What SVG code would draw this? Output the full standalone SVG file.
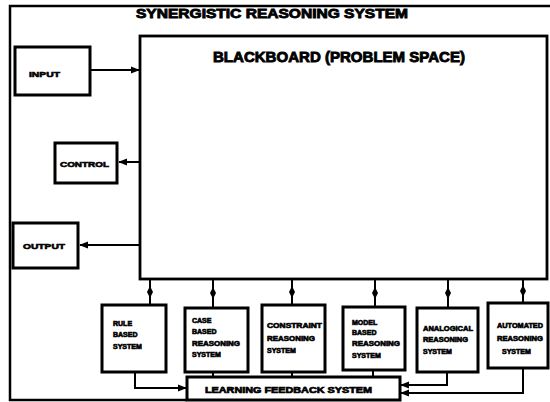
<svg xmlns="http://www.w3.org/2000/svg" width="550" height="402" viewBox="0 0 550 402">
  <style>
    .frame { fill: none; stroke: #000; stroke-width: 2.5; }
    .box { fill: #fff; stroke: #000; stroke-width: 3; }
    .board { fill: #fff; stroke: #000; stroke-width: 2.8; }
    .link { fill: none; stroke: #000; stroke-width: 2; }
    text { font-family: "Liberation Sans", Arial, sans-serif; font-weight: bold; fill: #000; stroke: #000; stroke-width: 0.6; }
    .title { font-size: 12px; stroke-width: 0.8; }
    .board-title { font-size: 15px; stroke-width: 0.9; }
    .label { font-size: 8px; }
    .small { font-size: 7px; stroke-width: 0.6; }
    .lfs { font-size: 9px; stroke-width: 0.7; }
  </style>
  <defs>
    <marker id="head" viewBox="0 0 10 10" refX="9" refY="5" markerWidth="4.5" markerHeight="4.5" orient="auto" markerUnits="strokeWidth">
      <path d="M0,1 L10,5 L0,9 Z" fill="#000"/>
    </marker>
    <marker id="spindle" viewBox="0 0 16 8" refX="8" refY="4" markerWidth="7" markerHeight="3" orient="auto" markerUnits="strokeWidth">
      <path d="M0,4 L8,0 L16,4 L8,8 Z" fill="#000"/>
    </marker>
  </defs>

  <rect width="550" height="402" fill="#fff"/>

  <!-- outer system frame -->
  <g id="system-frame">
    <path class="frame" d="M550,6 L10,6 L10,400 L187,400"/>
    <text class="title" x="136" y="18" textLength="272" lengthAdjust="spacingAndGlyphs">SYNERGISTIC REASONING SYSTEM</text>
  </g>

  <!-- connectors -->
  <g id="connectors">
    <path class="link" d="M90,70 L139,70" marker-end="url(#head)"/>
    <path class="link" d="M140,162 L119,162" marker-end="url(#head)"/>
    <path class="link" d="M140,245 L80,245" marker-end="url(#head)"/>

    <path class="link" d="M150,279 L150,292 L150,305" marker-mid="url(#spindle)"/>
    <path class="link" d="M213,279 L213,293 L213,307" marker-mid="url(#spindle)"/>
    <path class="link" d="M292,279 L292,292 L292,305" marker-mid="url(#spindle)"/>
    <path class="link" d="M375,279 L375,293 L375,306" marker-mid="url(#spindle)"/>
    <path class="link" d="M448,279 L448,293 L448,307" marker-mid="url(#spindle)"/>
    <path class="link" d="M523,279 L523,291 L523,302" marker-mid="url(#spindle)"/>

    <path class="link" d="M135,372 L135,388 L186,388" marker-end="url(#head)"/>
    <path class="link" d="M213,372 L213,377"/>
    <path class="link" d="M292,372 L292,377"/>
    <path class="link" d="M373,370 L373,377"/>
    <path class="link" d="M447,372 L447,385 L401,385" marker-end="url(#head)"/>
    <path class="link" d="M523,368 L523,393 L401,393" marker-end="url(#head)"/>
  </g>

  <g id="blackboard">
    <rect class="board" x="140" y="36" width="407" height="243"/>
    <text class="board-title" x="213" y="62" textLength="252" lengthAdjust="spacingAndGlyphs">BLACKBOARD (PROBLEM SPACE)</text>
  </g>

  <g id="input">
    <rect class="box" x="15" y="47" width="75" height="48"/>
    <text class="label" x="29" y="77" textLength="31" lengthAdjust="spacingAndGlyphs">INPUT</text>
  </g>

  <g id="control">
    <rect class="box" x="55" y="143" width="62" height="40"/>
    <text class="label" x="60" y="166.5" textLength="49" lengthAdjust="spacingAndGlyphs">CONTROL</text>
  </g>

  <g id="output">
    <rect class="box" x="13" y="223" width="65" height="45"/>
    <text class="label" x="23" y="248.5" textLength="42" lengthAdjust="spacingAndGlyphs">OUTPUT</text>
  </g>

  <g id="rule-based">
    <rect class="box" x="102" y="305" width="64" height="67"/>
    <text class="small" x="113" y="326">RULE</text>
    <text class="small" x="113" y="337">BASED</text>
    <text class="small" x="113" y="349">SYSTEM</text>
  </g>

  <g id="case-based">
    <rect class="box" x="185" y="308" width="63" height="64"/>
    <text class="small" x="192" y="323">CASE</text>
    <text class="small" x="192" y="334">BASED</text>
    <text class="small" x="192" y="346" textLength="48" lengthAdjust="spacingAndGlyphs">REASONING</text>
    <text class="small" x="192" y="357">SYSTEM</text>
  </g>

  <g id="constraint">
    <rect class="box" x="262" y="305" width="63" height="67"/>
    <text class="small" x="267" y="328" textLength="55" lengthAdjust="spacingAndGlyphs">CONSTRAINT</text>
    <text class="small" x="267" y="341" textLength="48" lengthAdjust="spacingAndGlyphs">REASONING</text>
    <text class="small" x="267" y="353">SYSTEM</text>
  </g>

  <g id="model-based">
    <rect class="box" x="343" y="307" width="62" height="63"/>
    <text class="small" x="352" y="325">MODEL</text>
    <text class="small" x="352" y="335">BASED</text>
    <text class="small" x="352" y="346" textLength="48" lengthAdjust="spacingAndGlyphs">REASONING</text>
    <text class="small" x="352" y="358">SYSTEM</text>
  </g>

  <g id="analogical">
    <rect class="box" x="417" y="308" width="61" height="64"/>
    <text class="small" x="423" y="331" textLength="50" lengthAdjust="spacingAndGlyphs">ANALOGICAL</text>
    <text class="small" x="423" y="342" textLength="45" lengthAdjust="spacingAndGlyphs">REASONING</text>
    <text class="small" x="423" y="354">SYSTEM</text>
  </g>

  <g id="automated">
    <rect class="box" x="488" y="303" width="60" height="65"/>
    <text class="small" x="497" y="328" textLength="46" lengthAdjust="spacingAndGlyphs">AUTOMATED</text>
    <text class="small" x="497" y="341" textLength="46" lengthAdjust="spacingAndGlyphs">REASONING</text>
    <text class="small" x="502" y="354">SYSTEM</text>
  </g>

  <g id="learning-feedback">
    <rect class="box" x="187" y="377" width="213" height="23"/>
    <text class="lfs" x="205" y="393" textLength="167" lengthAdjust="spacingAndGlyphs">LEARNING FEEDBACK SYSTEM</text>
  </g>
</svg>
